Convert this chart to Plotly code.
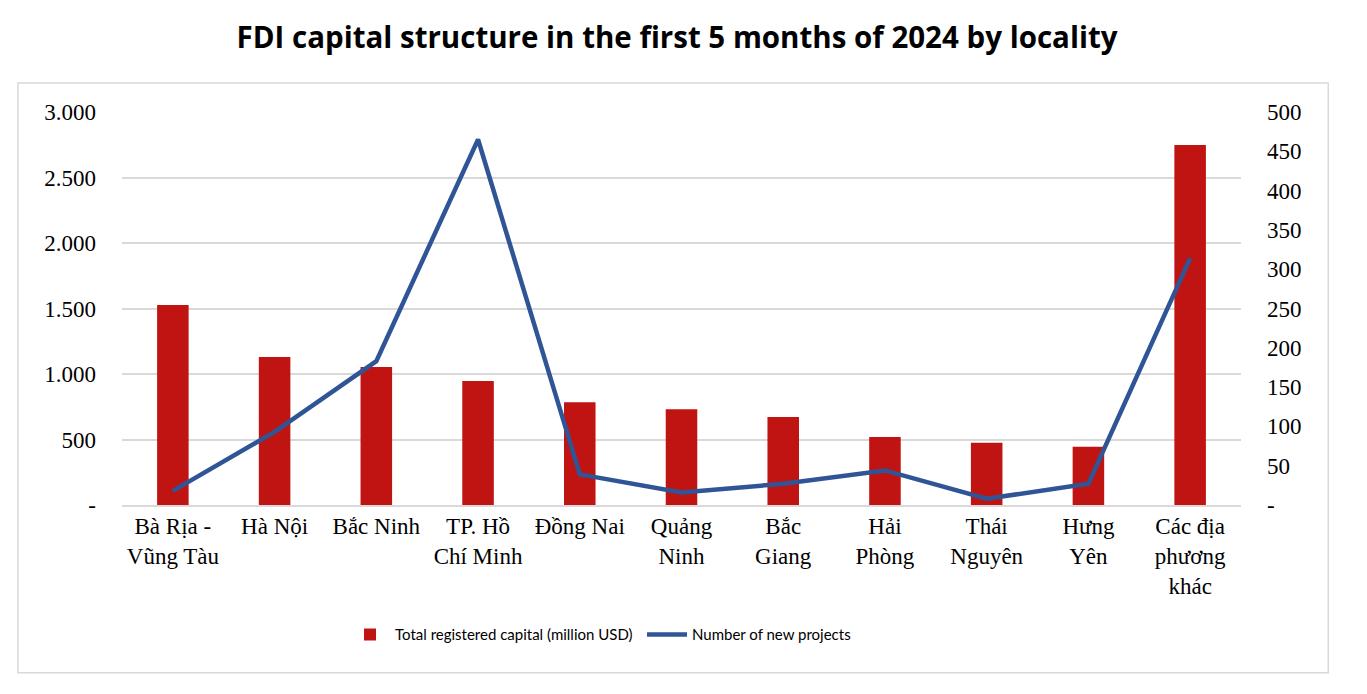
import plotly.graph_objects as go

categories = ["Bà Rịa -<br>Vũng Tàu", "Hà Nội", "Bắc Ninh", "TP. Hồ<br>Chí Minh", "Đồng Nai",
              "Quảng<br>Ninh", "Bắc<br>Giang", "Hải<br>Phòng", "Thái<br>Nguyên", "Hưng<br>Yên",
              "Các địa<br>phương<br>khác"]
capital = [1527, 1130, 1053, 946, 784, 730, 672, 519, 476, 445, 2748]
projects = [18, 93, 183, 465, 39, 16, 27, 44, 8, 27, 314]

left_tickvals = [0, 500, 1000, 1500, 2000, 2500, 3000]
left_ticktext = ["-", "500", "1.000", "1.500", "2.000", "2.500", "3.000"]
right_tickvals = [0, 50, 100, 150, 200, 250, 300, 350, 400, 450, 500]
right_ticktext = ["-", "50", "100", "150", "200", "250", "300", "350", "400", "450", "500"]

serif = "Liberation Serif, Times New Roman, serif"
sans = "Lato, Carlito, Calibri, sans-serif"
title_font = "Open Sans, Lato, sans-serif"

fig = go.Figure()
fig.add_trace(go.Bar(x=categories, y=capital, name="Total registered capital (million USD)",
                     marker=dict(color="#C01412", line=dict(width=0)), yaxis="y"))
fig.add_trace(go.Scatter(x=categories, y=projects, name="Number of new projects", mode="lines",
                         line=dict(color="#2F5597", width=4.5), yaxis="y2"))

fig.update_layout(
    width=1359, height=686,
    margin=dict(l=114, r=126, t=104, b=189),
    paper_bgcolor="white", plot_bgcolor="white",
    bargap=0.69,
    showlegend=True,
    title=dict(text="<b>FDI capital structure in the first 5 months of 2024 by locality</b>",
               x=0.4923, xanchor="center", y=0.9563, yanchor="middle",
               font=dict(family=title_font, size=29.5, color="black")),
    xaxis=dict(tickfont=dict(family=serif, size=23, color="black"), showline=True,
               linecolor="#d9d9d9", linewidth=1.5, ticks="", showgrid=False),
    yaxis=dict(range=[0, 3000], tickvals=left_tickvals, ticktext=left_ticktext,
               tickfont=dict(family=serif, size=23, color="black"), showgrid=True,
               gridcolor="#d9d9d9", gridwidth=1.5, zeroline=False, ticks="", ticklen=0,
               ticklabelstandoff=25),
    yaxis2=dict(range=[0, 500], tickvals=right_tickvals, ticktext=right_ticktext,
                overlaying="y", side="right", showgrid=False, zeroline=False,
                tickfont=dict(family=serif, size=23, color="black"), ticks="",
                ticklabelstandoff=25),
    legend=dict(orientation="h", x=0.1993, xanchor="left", y=-0.33, yanchor="middle",
                font=dict(family=sans, size=15, color="black"), itemwidth=40,
                entrywidth=242, entrywidthmode="pixels"),
    shapes=[dict(type="rect", xref="paper", yref="paper", x0=-0.093, x1=1.078,
                 y0=-0.427, y1=1.074, line=dict(color="#d9d9d9", width=1.5),
                 fillcolor="rgba(0,0,0,0)", layer="below")],
)

fig.write_html("out.html")
